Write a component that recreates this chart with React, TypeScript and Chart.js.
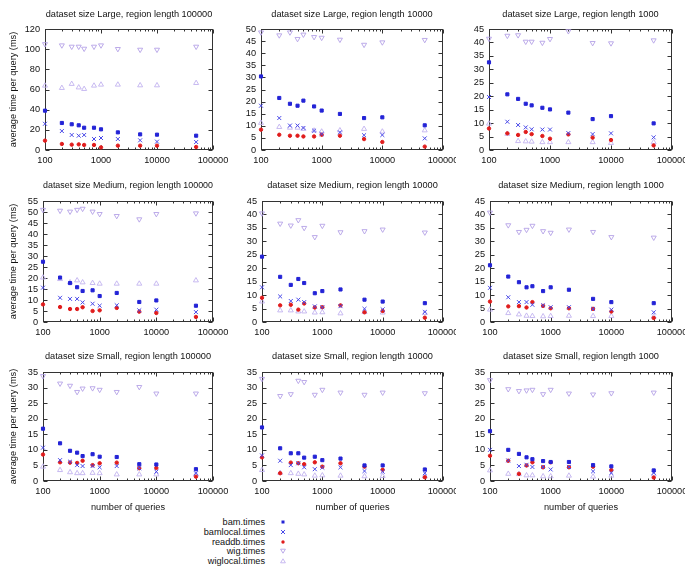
import React, { useEffect, useRef } from "react";
import Chart from "chart.js/auto";

const FONT_FAMILY = '"Liberation Sans", Arial, Helvetica, sans-serif';
const FONT_SIZE = 9.2;
const TEXT_COLOR = "#111";

// ---- data ----
const queries = [100, 200, 300, 400, 500, 750, 1000, 2000, 5000, 10000, 50000];
const xTickValues = [100, 1000, 10000, 100000];
const seriesLabels = ["bam.times", "bamlocal.times", "readdb.times", "wig.times", "wiglocal.times"];

const panelTitles = [
  "dataset size Large, region length 100000",
  "dataset size Large, region length 10000",
  "dataset size Large, region length 1000",
  "dataset size Medium, region length 100000",
  "dataset size Medium, region length 10000",
  "dataset size Medium, region length 1000",
  "dataset size Small, region length 100000",
  "dataset size Small, region length 10000",
  "dataset size Small, region length 1000",
];
const yMaxes = [120, 50, 45, 55, 45, 45, 35, 35, 35];
const yStepSizes = [20, 5, 5, 5, 5, 5, 5, 5, 5];

// Large, region length 100000
const large100000Bam = [39, 26.8, 25.5, 24.5, 22.1, 22.1, 20.5, 17.5, 15.5, 15.2, 14.2];
const large100000BamLocal = [26, 18.8, 14.9, 14.2, 14.9, 10.9, 11.9, 10.9, 9.6, 8.3, 7.9];
const large100000Readdb = [9.3, 6, 5.3, 5.6, 5, 5, 2.6, 4.3, 4.3, 4.3, 3];
const large100000Wig = [105, 103.8, 102.5, 102.5, 100.5, 102.5, 103.8, 100.2, 99.5, 99.5, 102.5];
const large100000WigLocal = [63.8, 61.5, 65.5, 62, 60.5, 63.8, 64.8, 64.8, 64.1, 64.1, 66.4];
// Large, region length 10000
const large10000Bam = [30.4, 21.5, 19.1, 18.3, 20.4, 18, 16.3, 14.9, 13.2, 13.5, 10.2];
const large10000BamLocal = [18.3, 13.2, 10.1, 10.1, 9.1, 8, 6.6, 7.3, 6.1, 6.2, 4.8];
const large10000Readdb = [8.4, 6.3, 5.9, 5.9, 5.6, 5.6, 6.3, 5.9, 4.5, 3.3, 1.4];
const large10000Wig = [48.6, 47.4, 48.6, 45.9, 47.7, 46.7, 46.4, 45.6, 43.5, 44.5, 45.5];
const large10000WigLocal = [11.2, 9.5, 9.2, 9.2, 8.7, 8, 7.6, 8.1, 8.7, 7.6, 8.1];
// Large, region length 1000
const large1000Bam = [32.6, 20.7, 19, 17.2, 16.6, 15.7, 15.1, 13.9, 11.5, 12.6, 9.9];
const large1000BamLocal = [19.7, 10.5, 9.3, 8.4, 7.7, 7.6, 7.6, 6.3, 5.9, 6.2, 4.7];
const large1000Readdb = [8, 6.2, 5.6, 6.7, 5.9, 5.2, 4.2, 5.8, 4.6, 3.7, 1.7];
const large1000Wig = [41.4, 42.5, 42.7, 40.3, 40.3, 39.9, 41.3, 44.2, 39.8, 39.7, 40.8];
const large1000WigLocal = [9.8, 6, 3.3, 3.2, 3.1, 2.9, 2.9, 2.9, 2.9, 2.6, 2.9];
// Medium, region length 100000
const medium100000Bam = [27.4, 20.2, 17.7, 15.8, 14.1, 14.4, 11.8, 13.2, 9.1, 9.8, 7.4];
const medium100000BamLocal = [15.6, 11, 10.5, 10.5, 8.9, 8.3, 7.4, 7.6, 5.3, 5.6, 4.5];
const medium100000Readdb = [8, 6.8, 5.9, 5.9, 6.7, 5, 5.3, 6.4, 4.7, 4.1, 2.3];
const medium100000Wig = [51, 50.6, 50.2, 51, 51.5, 50.2, 49.1, 48.2, 46.7, 49.1, 49.4];
const medium100000WigLocal = [20.2, 19.5, 18, 18.9, 18, 17.7, 17.4, 17.4, 17.4, 17.4, 18.9];
// Medium, region length 10000
const medium10000Bam = [24.3, 16.8, 13.8, 16, 14.5, 10.7, 11.5, 12.1, 8.3, 7.6, 7];
const medium10000BamLocal = [12.9, 9.5, 7.8, 8.3, 7.4, 5.8, 5.5, 5.9, 4.9, 4.7, 3.7];
const medium10000Readdb = [9, 6.2, 6.4, 4.6, 6.9, 5.4, 5.5, 6.2, 3.6, 4.1, 1.6];
const medium10000Wig = [40.4, 36.6, 35.9, 37.9, 35, 31.6, 35.8, 33.4, 33.8, 34.4, 33.3];
const medium10000WigLocal = [7.6, 4.3, 4.3, 3.9, 3.9, 3.5, 3.6, 3.2, 3.7, 3.5, 3.3];
// Medium, region length 1000
const medium1000Bam = [21.1, 16.9, 14.8, 12.9, 13.3, 11.5, 12.9, 12, 8.6, 7.4, 7];
const medium1000BamLocal = [12.7, 9.2, 7.4, 7.4, 6.4, 6.2, 5.5, 5.5, 4.9, 4.6, 3.6];
const medium1000Readdb = [7.6, 5.8, 5.9, 5.4, 7.4, 6, 5.1, 5.1, 4.9, 3.9, 1.5];
const medium1000Wig = [40.7, 36, 33.5, 34.3, 35.8, 33.8, 33.2, 34.4, 33.5, 31.6, 31.4];
const medium1000WigLocal = [4.6, 3.3, 2.8, 2.3, 2.2, 2.1, 2.2, 2.3, 2.2, 2.2, 2];
// Small, region length 100000
const small100000Bam = [16.8, 12.1, 9.7, 9.1, 8, 8.6, 7.8, 7.7, 5.4, 5.3, 3.8];
const small100000BamLocal = [10.7, 6.7, 6.2, 5.1, 4.8, 4.8, 4.4, 4.8, 4.1, 3, 2.5];
const small100000Readdb = [8.5, 6, 5.9, 5.8, 6.5, 5.1, 5.7, 5.9, 4.1, 4.2, 1.4];
const small100000Wig = [33.7, 31.3, 30.6, 28.6, 29.7, 29.8, 29.3, 28.6, 30.2, 28.1, 28.1];
const small100000WigLocal = [4.6, 3.5, 2.8, 2.5, 2.5, 2.6, 2.5, 2.1, 2.1, 2.1, 2.1];
// Small, region length 10000
const small10000Bam = [17.2, 10.5, 8.9, 8.9, 7.5, 7.8, 6.7, 7.2, 5, 5, 3.7];
const small10000BamLocal = [8.2, 6.5, 5.1, 5.7, 4.4, 3.8, 4.3, 4.4, 3.2, 3, 2.5];
const small10000Readdb = [7.6, 2.5, 5.9, 5.7, 5.4, 6, 4.6, 5.7, 4.6, 3.6, 1.2];
const small10000Wig = [32.8, 27.3, 27.9, 32.2, 31.8, 27.7, 29.3, 28.4, 27.7, 28.4, 28.2];
const small10000WigLocal = [3.5, 2.6, 2.5, 2.3, 2.1, 1.7, 1.8, 1.7, 1.5, 1.6, 1.5];
// Small, region length 1000
const small1000Bam = [16, 10, 8.7, 7.6, 7, 6.4, 6.1, 6.1, 5.1, 4.7, 3.4];
const small1000BamLocal = [10, 6.6, 4.8, 5.2, 4.5, 4.5, 3.7, 4.5, 3.1, 2.6, 2.6];
const small1000Readdb = [8.1, 6.5, 2.3, 5, 6, 4.4, 6, 4.4, 4.6, 3.5, 1.1];
const small1000Wig = [32.4, 29.5, 28.9, 29.1, 29.3, 27.9, 29.3, 28.1, 27.8, 28.2, 28.4];
const small1000WigLocal = [3.4, 2.3, 2.2, 1.8, 1.8, 1.5, 1.5, 1.7, 1.4, 1.7, 2.1];

const panelSeries = [
  [large100000Bam, large100000BamLocal, large100000Readdb, large100000Wig, large100000WigLocal],
  [large10000Bam, large10000BamLocal, large10000Readdb, large10000Wig, large10000WigLocal],
  [large1000Bam, large1000BamLocal, large1000Readdb, large1000Wig, large1000WigLocal],
  [medium100000Bam, medium100000BamLocal, medium100000Readdb, medium100000Wig, medium100000WigLocal],
  [medium10000Bam, medium10000BamLocal, medium10000Readdb, medium10000Wig, medium10000WigLocal],
  [medium1000Bam, medium1000BamLocal, medium1000Readdb, medium1000Wig, medium1000WigLocal],
  [small100000Bam, small100000BamLocal, small100000Readdb, small100000Wig, small100000WigLocal],
  [small10000Bam, small10000BamLocal, small10000Readdb, small10000Wig, small10000WigLocal],
  [small1000Bam, small1000BamLocal, small1000Readdb, small1000Wig, small1000WigLocal],
];

// ---- styles ----
const seriesStyles = [
  { pointStyle: "rect", radius: 2.2, color: "#2323d6", fill: true, rotation: 0, bw: 1 },
  { pointStyle: "crossRot", radius: 2.8, color: "#4a4ae8", fill: false, rotation: 0, bw: 1 },
  { pointStyle: "circle", radius: 1.7, color: "#e01c1c", fill: true, rotation: 0, bw: 1 },
  { pointStyle: "triangle", radius: 2.9, color: "#b4a2e6", fill: false, rotation: 180, bw: 0.9 },
  { pointStyle: "triangle", radius: 2.9, color: "#c2b2ef", fill: false, rotation: 0, bw: 0.9 },
];

// ---- layout ----
const colLeft = [0, 228, 456];
const colWidth = [228, 228, 229];
const plotRightAbs = [213, 443, 672];
const plotLeftAbs = [
  [45, 261, 489],
  [43, 262, 490],
  [43, 262, 490],
];
const rowTop = [0, 171, 342];
const rowHeight = [171, 171, 172];
const plotTopAbs = [29, 201, 372];
const plotBottomAbs = [150, 322, 481];
const titleCenterAbs = [14, 185, 356];
const LH = FONT_SIZE * 1.2;

const framePlugin = {
  id: "gnuFrame",
  beforeDatasetsDraw(chart: any) {
    const { ctx, chartArea: a, scales } = chart;
    const xs = scales.x;
    const ys = scales.y;
    ctx.save();
    ctx.strokeStyle = "#333";
    ctx.lineWidth = 1;
    const L = Math.round(a.left) + 0.5;
    const R = Math.round(a.right) - 0.5;
    const T = Math.round(a.top) + 0.5;
    const B = Math.round(a.bottom) - 0.5;
    ctx.strokeRect(L, T, R - L, B - T);
    ctx.beginPath();
    ys.ticks.forEach((t: any) => {
      const py = Math.round(ys.getPixelForValue(t.value)) + 0.5;
      ctx.moveTo(L, py);
      ctx.lineTo(L + 4, py);
      ctx.moveTo(R, py);
      ctx.lineTo(R - 4, py);
    });
    xTickValues.forEach((v) => {
      const px = Math.round(xs.getPixelForValue(v)) + 0.5;
      ctx.moveTo(px, B);
      ctx.lineTo(px, B - 4);
      ctx.moveTo(px, T);
      ctx.lineTo(px, T + 4);
    });
    [100, 1000, 10000].forEach((d) => {
      for (let m = 2; m <= 9; m++) {
        const px = Math.round(xs.getPixelForValue(d * m)) + 0.5;
        ctx.moveTo(px, B);
        ctx.lineTo(px, B - 2);
        ctx.moveTo(px, T);
        ctx.lineTo(px, T + 2);
      }
    });
    ctx.stroke();
    ctx.restore();
  },
};

function Panel({ index }: { index: number }) {
  const ref = useRef<HTMLCanvasElement | null>(null);
  const row = Math.floor(index / 3);
  const col = index % 3;
  const left = colLeft[col];
  const top = rowTop[row];
  const width = colWidth[col];
  const height = rowHeight[row];

  useEffect(() => {
    if (!ref.current) return;
    const font = { family: FONT_FAMILY, size: FONT_SIZE, weight: "normal" as const };
    const yWidth = plotLeftAbs[row][col] - left;
    const padRight = left + width - plotRightAbs[col];
    const xHeight = top + height - plotBottomAbs[row];
    const titlePadTop = titleCenterAbs[row] - top - LH / 2;
    const titlePadBottom = plotTopAbs[row] - top - LH - titlePadTop;
    const isBottomRow = row === 2;
    const isLeftCol = col === 0;

    const datasets = panelSeries[index].map((vals, si) => {
      const st = seriesStyles[si];
      return {
        label: seriesLabels[si],
        data: queries.map((q, i) => ({ x: q, y: vals[i] })),
        pointStyle: st.pointStyle,
        pointRadius: st.radius,
        pointRotation: st.rotation,
        pointBorderWidth: st.bw,
        borderColor: st.color,
        backgroundColor: st.fill ? st.color : "rgba(0,0,0,0)",
        pointBackgroundColor: st.fill ? st.color : "rgba(0,0,0,0)",
        pointBorderColor: st.color,
        showLine: false,
        clip: false as any,
      };
    });

    const chart = new Chart(ref.current, {
      type: "scatter",
      data: { datasets: datasets as any },
      plugins: [framePlugin],
      options: {
        animation: false,
        responsive: false,
        events: [],
        layout: { padding: { top: 0, left: 0, bottom: 0, right: padRight } },
        plugins: {
          legend: { display: false },
          tooltip: { enabled: false },
          title: {
            display: true,
            text: panelTitles[index],
            fullSize: false,
            color: TEXT_COLOR,
            font,
            padding: { top: titlePadTop, bottom: titlePadBottom },
          },
        },
        scales: {
          x: {
            type: "logarithmic",
            position: "bottom",
            min: 100,
            max: 100000,
            grid: { display: false, drawTicks: false },
            border: { display: false },
            afterBuildTicks: (s: any) => {
              s.ticks = xTickValues.map((v) => ({ value: v }));
            },
            ticks: {
              autoSkip: false,
              maxRotation: 0,
              minRotation: 0,
              padding: 4.5,
              color: TEXT_COLOR,
              font,
              callback: (v: any) => String(v),
            },
            title: {
              display: isBottomRow,
              text: "number of queries",
              color: TEXT_COLOR,
              font,
              padding: { top: 0, bottom: 1.5 },
            },
            afterFit: (s: any) => {
              s.height = xHeight;
              s.paddingLeft = 0;
              s.paddingRight = 0;
            },
          },
          y: {
            type: "linear",
            position: "left",
            min: 0,
            max: yMaxes[index],
            grid: { display: false, drawTicks: false },
            border: { display: false },
            ticks: {
              stepSize: yStepSizes[index],
              autoSkip: false,
              padding: 5,
              color: TEXT_COLOR,
              font,
            },
            title: {
              display: isLeftCol,
              text: "average time per query (ms)",
              color: TEXT_COLOR,
              font,
              padding: { top: 7.5, bottom: 0 },
            },
            afterFit: (s: any) => {
              s.width = yWidth;
              s.paddingTop = 0;
              s.paddingBottom = 0;
            },
          },
        },
      } as any,
    });
    return () => chart.destroy();
  }, [index]);

  return (
    <canvas
      ref={ref}
      width={width}
      height={height}
      style={{ position: "absolute", left, top, width, height }}
    />
  );
}

function LegendMarker({ si }: { si: number }) {
  const st = seriesStyles[si];
  let shape: React.ReactNode = null;
  if (si === 0) shape = <rect x={1.5} y={1.5} width={3} height={3} fill={st.color} />;
  else if (si === 1)
    shape = (
      <g stroke={st.color} strokeWidth={1}>
        <line x1={1} y1={1} x2={5} y2={5} />
        <line x1={5} y1={1} x2={1} y2={5} />
      </g>
    );
  else if (si === 2) shape = <circle cx={3} cy={3} r={1.7} fill={st.color} />;
  else if (si === 3)
    shape = <polygon points="0.6,1.2 5.4,1.2 3,5.2" fill="none" stroke={st.color} strokeWidth={0.9} />;
  else shape = <polygon points="0.6,4.8 5.4,4.8 3,0.8" fill="none" stroke={st.color} strokeWidth={0.9} />;
  return (
    <svg width={6} height={6} style={{ position: "absolute", left: 280, top: -3 }}>
      {shape}
    </svg>
  );
}

const legendCenters = [522, 531.75, 541.5, 551.25, 561];

export default function App() {
  useEffect(() => {
    document.body.style.margin = "0";
  }, []);
  return (
    <div
      style={{
        position: "fixed",
        left: 0,
        top: 0,
        width: 685,
        height: 570,
        background: "#fff",
        overflow: "hidden",
      }}
    >
      {panelTitles.map((_, i) => (
        <Panel key={i} index={i} />
      ))}
      {seriesLabels.map((name, si) => (
        <div key={name} style={{ position: "absolute", left: 0, top: legendCenters[si], height: 0 }}>
          <div
            style={{
              position: "absolute",
              left: 140,
              width: 125,
              top: -6,
              height: 12,
              lineHeight: "12px",
              textAlign: "right",
              fontFamily: FONT_FAMILY,
              fontSize: FONT_SIZE,
              color: TEXT_COLOR,
              whiteSpace: "nowrap",
            }}
          >
            {name}
          </div>
          <LegendMarker si={si} />
        </div>
      ))}
    </div>
  );
}
